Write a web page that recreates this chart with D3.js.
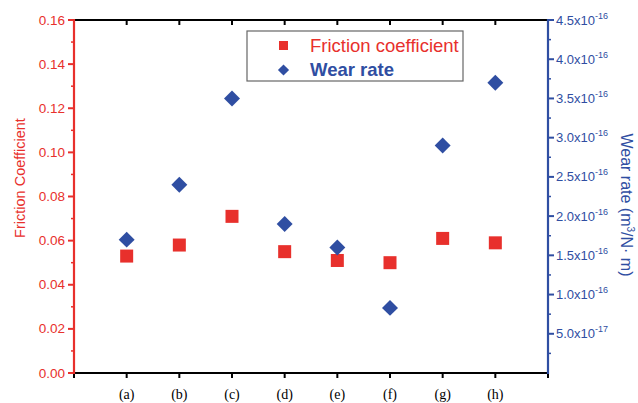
<!DOCTYPE html>
<html>
<head>
<meta charset="utf-8">
<script src="https://cdn.jsdelivr.net/npm/d3@7"></script>
<style>
  body { margin: 0; background: #fff; }
  svg { display: block; }
</style>
</head>
<body>
<div id="chart"></div>
<script>
// data
const samples = ['(a)', '(b)', '(c)', '(d)', '(e)', '(f)', '(g)', '(h)'];
const friction = [0.053, 0.058, 0.071, 0.055, 0.051, 0.050, 0.061, 0.059];
const wearRate = [1.7e-16, 2.4e-16, 3.5e-16, 1.9e-16, 1.6e-16, 0.83e-16, 2.9e-16, 3.7e-16];
const leftTicks = [0, 0.02, 0.04, 0.06, 0.08, 0.10, 0.12, 0.14, 0.16];
const rightTicks = [5e-17, 1e-16, 1.5e-16, 2e-16, 2.5e-16, 3e-16, 3.5e-16, 4e-16, 4.5e-16];

const W = 638, H = 403;
const margin = {t:20, r:90, b:30, l:74};
const red = '#e8302c', blue = '#2f4ea2';

const svg = d3.select('#chart').append('svg')
	.attr('width', W)
	.attr('height', H);

const x = d3.scaleLinear().domain([0, 9]).range([margin.l, W - margin.r]);
const yL = d3.scaleLinear().domain([0, 0.16]).range([H - margin.b, margin.t]);
const yR = d3.scaleLinear().domain([0, 4.5e-16]).range([H - margin.b, margin.t]);

const x0 = x(0), x1 = x(9), yb = yL(0), yt = yL(0.16);

//frame lines: top and bottom black
svg.append('line').attr('x1', x0).attr('x2', x1).attr('y1', yt).attr('y2', yt)
	.attr('stroke', '#000').attr('stroke-width', 2);
svg.append('line').attr('x1', x0).attr('x2', x1).attr('y1', yb).attr('y2', yb)
	.attr('stroke', '#000').attr('stroke-width', 2);

//x ticks (bottom outward, top inward)
const xt = d3.range(0, 10);
svg.selectAll('.xtick-b').data(xt).enter().append('line')
	.attr('x1', d => x(d)).attr('x2', d => x(d))
	.attr('y1', yb).attr('y2', yb + 5)
	.attr('stroke', '#000').attr('stroke-width', 2);
svg.selectAll('.xtick-t').data(xt.slice(1, 9)).enter().append('line')
	.attr('x1', d => x(d)).attr('x2', d => x(d))
	.attr('y1', yt).attr('y2', yt + 5)
	.attr('stroke', '#000').attr('stroke-width', 2);

svg.selectAll('.xlab').data(samples).enter().append('text')
	.attr('x', (d, i) => x(i + 1))
	.attr('y', yb + 26)
	.attr('text-anchor', 'middle')
	.style('font-family', '"Liberation Serif", "Times New Roman", serif')
	.style('font-size', '14px')
	.attr('fill', '#000')
	.text(d => d);

//left axis
svg.append('line').attr('x1', x0).attr('x2', x0).attr('y1', yt - 1).attr('y2', yb + 1)
	.attr('stroke', red).attr('stroke-width', 2.2);
svg.selectAll('.lmaj').data(leftTicks).enter().append('line')
	.attr('x1', x0 - 6).attr('x2', x0)
	.attr('y1', d => yL(d)).attr('y2', d => yL(d))
	.attr('stroke', red).attr('stroke-width', 2);
svg.selectAll('.lmin').data(leftTicks.slice(0, -1).map(d => d + 0.01)).enter().append('line')
	.attr('x1', x0 - 3).attr('x2', x0)
	.attr('y1', d => yL(d)).attr('y2', d => yL(d))
	.attr('stroke', red).attr('stroke-width', 1.5);
svg.selectAll('.llab').data(leftTicks).enter().append('text')
	.attr('x', x0 - 9)
	.attr('y', d => yL(d) + 4.5)
	.attr('text-anchor', 'end')
	.style('font-family', '"Liberation Sans", Arial, sans-serif')
	.style('font-size', '13.5px')
	.attr('fill', red)
	.text(d => d.toFixed(2));
svg.append('text')
	.attr('transform', `translate(${25}, ${178}) rotate(-90)`)
	.attr('text-anchor', 'middle')
	.style('font-family', '"Liberation Sans", Arial, sans-serif')
	.style('font-size', '14.5px')
	.attr('fill', red)
	.text('Friction Coefficient');

//right axis
svg.append('line').attr('x1', x1).attr('x2', x1).attr('y1', yt - 1).attr('y2', yb + 1)
	.attr('stroke', blue).attr('stroke-width', 2.2);
svg.selectAll('.rmaj').data(rightTicks).enter().append('line')
	.attr('x1', x1).attr('x2', x1 + 6)
	.attr('y1', d => yR(d)).attr('y2', d => yR(d))
	.attr('stroke', blue).attr('stroke-width', 2);
svg.selectAll('.rmin').data(rightTicks.map(d => d - 2.5e-17)).enter().append('line')
	.attr('x1', x1).attr('x2', x1 + 3)
	.attr('y1', d => yR(d)).attr('y2', d => yR(d))
	.attr('stroke', blue).attr('stroke-width', 1.5);

const rlab = svg.selectAll('.rlab').data(rightTicks).enter().append('text')
	.attr('x', x1 + 8)
	.attr('y', d => yR(d) + 4.5)
	.style('font-family', '"Liberation Sans", Arial, sans-serif')
	.style('font-size', '13px')
	.attr('fill', blue);
rlab.append('tspan').text(d => {
	const e = Math.floor(Math.log10(d) + 1e-9);
	return (d / Math.pow(10, e)).toFixed(1) + 'x10';
});
rlab.append('tspan')
	.attr('dy', -6)
	.style('font-size', '9px')
	.text(d => String(Math.floor(Math.log10(d) + 1e-9)));

const rt = svg.append('text')
	.attr('transform', `translate(${621}, ${205}) rotate(90)`)
	.attr('text-anchor', 'middle')
	.style('font-family', '"Liberation Sans", Arial, sans-serif')
	.style('font-size', '16px')
	.attr('fill', blue);
rt.append('tspan').text('Wear rate (m');
rt.append('tspan').attr('dy', -6).style('font-size', '10px').text('3');
rt.append('tspan').attr('dy', 6).text('/N\u00b7  m)');

//markers
svg.selectAll('.fric').data(friction).enter().append('rect')
	.attr('x', (d, i) => x(i + 1) - 6.5)
	.attr('y', d => yL(d) - 6.5)
	.attr('width', 13).attr('height', 13)
	.attr('fill', red);

const diamond = d3.symbol().type(d3.symbolDiamond2).size(162);
svg.selectAll('.wear').data(wearRate).enter().append('path')
	.attr('d', diamond)
	.attr('transform', (d, i) => `translate(${x(i + 1)}, ${yR(d)})`)
	.attr('fill', blue);

//legend
const lg = svg.append('g').attr('transform', 'translate(247, 31)');
lg.append('rect').attr('width', 216).attr('height', 50)
	.attr('fill', '#fff').attr('stroke', '#666').attr('stroke-width', 1.2);
lg.append('rect').attr('x', 32).attr('y', 10).attr('width', 9).attr('height', 9).attr('fill', red);
lg.append('path').attr('d', d3.symbol().type(d3.symbolDiamond2).size(80))
	.attr('transform', 'translate(36.5, 39)').attr('fill', blue);
lg.append('text').attr('x', 63).attr('y', 21)
	.style('font-family', '"Liberation Sans", Arial, sans-serif')
	.style('font-size', '18.5px')
	.attr('fill', red).text('Friction coefficient');
lg.append('text').attr('x', 63).attr('y', 45)
	.style('font-family', '"Liberation Sans", Arial, sans-serif')
	.style('font-size', '18.5px').style('font-weight', 'bold')
	.attr('fill', blue).text('Wear rate');
</script>
</body>
</html>
